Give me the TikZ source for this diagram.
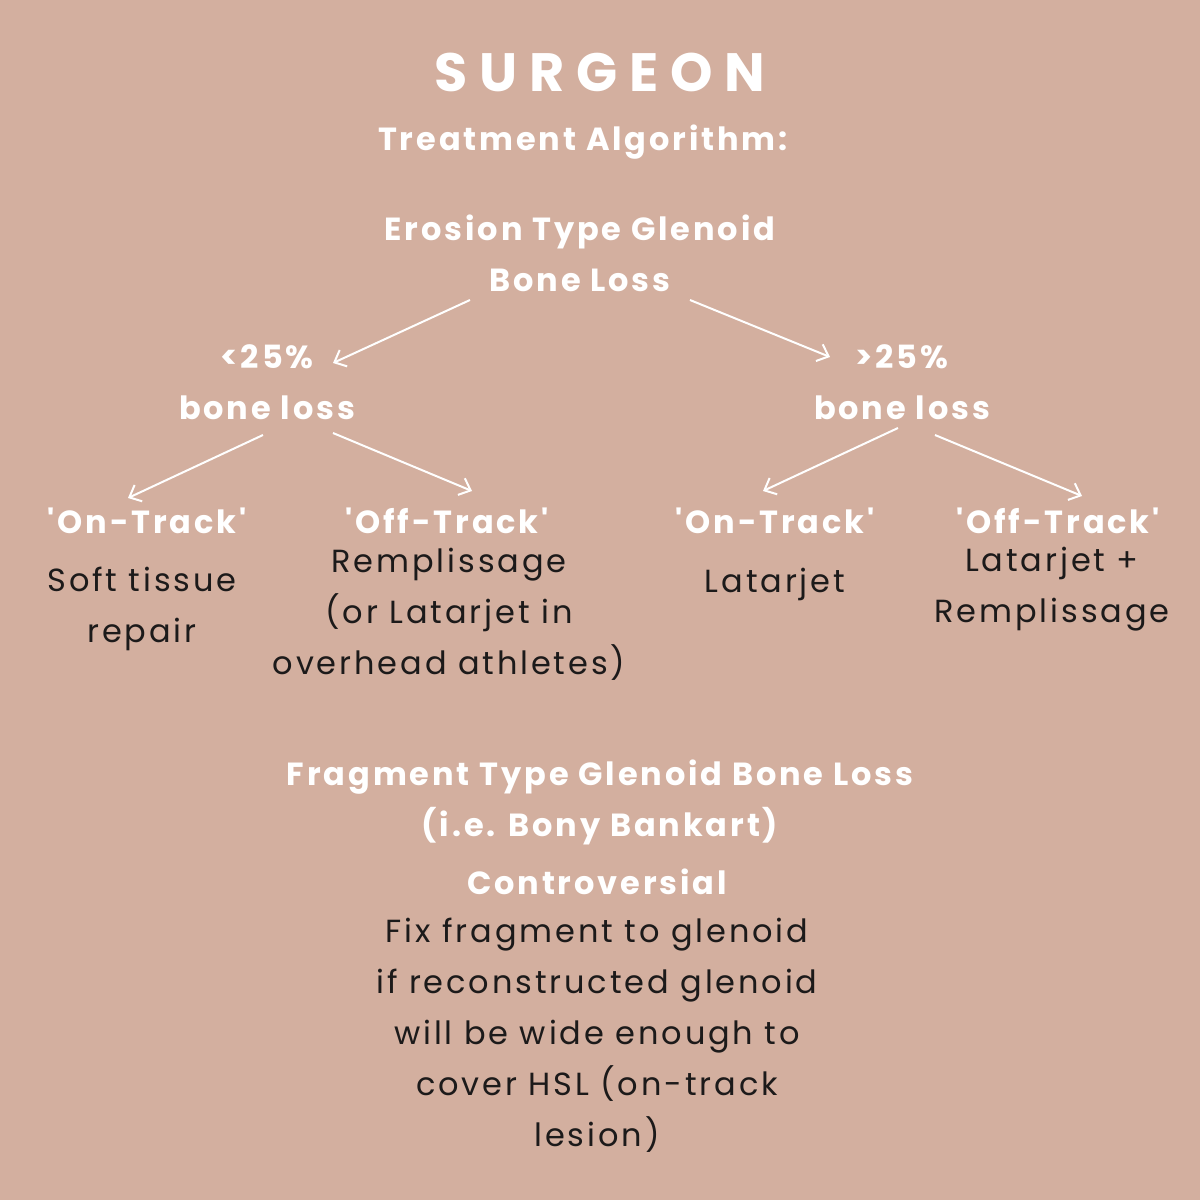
\documentclass[tikz,border=0pt]{standalone}
\usepackage{fontspec}
\setmainfont{Poppins}
\newfontfamily\wideft[LetterSpace=22]{Poppins}
\newfontfamily\spft[LetterSpace=9]{Poppins}
\usetikzlibrary{arrows.meta}
\definecolor{bg}{HTML}{D3AF9F}
\definecolor{ink}{HTML}{1C1A1A}
\begin{document}
\begin{tikzpicture}[x=1pt,y=-1pt,
  w/.style={text=white,font=\spft\bfseries\fontsize{32}{51}\selectfont,align=center,inner sep=0},
  b/.style={text=ink,font=\spft\fontsize{32}{51}\selectfont,align=center,inner sep=0},
  ar/.style={draw=white,line width=2pt,-{Straight Barb[length=10pt,width=18pt,line width=2pt]}}]
\fill[bg] (0,0) rectangle (1200,1200);
\useasboundingbox (0,0) rectangle (1200,1200);
\node[text=white,font=\wideft\bfseries\fontsize{54}{56}\selectfont] (t) at (600,72) {SURGEON};
\node[w] (ta) at (583,142) {Treatment Algorithm:};
\node[w] (e) at (580,253) {Erosion Type Glenoid\\Bone Loss};
\node[w] (l) at (267,382) {<25\%\\bone loss};
\node[w] (g) at (902,382) {>25\%\\bone loss};
\node[w] (on1) at (147,521) {'On-Track'};
\node[w] (off1) at (447,521) {'Off-Track'};
\node[w] (on2) at (775,521) {'On-Track'};
\node[w] (off2) at (1058,521) {'Off-Track'};
\node[b] (s1) at (142,609) {Soft tissue\\repair};
\node[b] (s2) at (449,614) {Remplissage\\(or Latarjet in\\overhead athletes)};
\node[b] (s3) at (775,584) {Latarjet};
\node[b] (s4) at (1052,589) {Latarjet +\\Remplissage};
\node[w] (f) at (600,802) {Fragment Type Glenoid Bone Loss\\(i.e. Bony Bankart)};
\node[w] (c) at (597,882) {Controversial};
\node[b] (fx) at (597,1035) {Fix fragment to glenoid\\if reconstructed glenoid\\will be wide enough to\\cover HSL (on-track\\lesion)};
\coordinate (a1) at (470,300); \coordinate (a1e) at (333,363);
\coordinate (a2) at (690,300); \coordinate (a2e) at (830,357);
\coordinate (a3) at (263,435); \coordinate (a3e) at (128,498);
\coordinate (a4) at (333,433); \coordinate (a4e) at (472,491);
\coordinate (a5) at (898,428); \coordinate (a5e) at (763,491);
\coordinate (a6) at (935,435); \coordinate (a6e) at (1082,496);
\draw[ar] (a1) -- (a1e); \draw[ar] (a2) -- (a2e);
\draw[ar] (a3) -- (a3e); \draw[ar] (a4) -- (a4e);
\draw[ar] (a5) -- (a5e); \draw[ar] (a6) -- (a6e);
\end{tikzpicture}
\end{document}
